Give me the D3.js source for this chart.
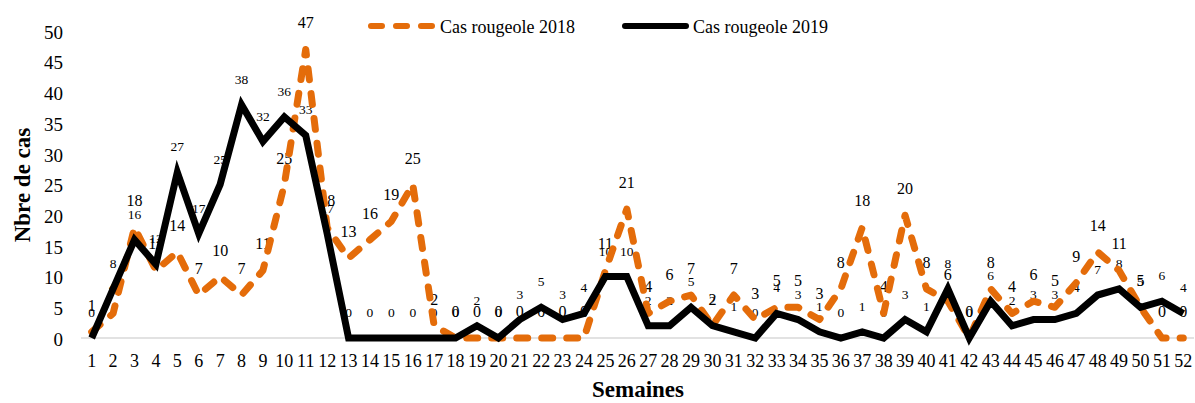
<!DOCTYPE html>
<html>
<head>
<meta charset="utf-8">
<script src="https://cdn.jsdelivr.net/npm/d3@7"></script>
<style>
  body { margin: 0; background: #fff; }
  svg text { font-family: "Liberation Serif", "Tinos", "Times New Roman", Times, "DejaVu Serif", serif !important; fill: #000; }
</style>
</head>
<body>
<svg id="chart" width="1195" height="403"></svg>
<script>
// Weekly measles cases (semaines 1–52)
const weeks = d3.range(1, 53).map(String);
const cas2018 = [1, 4, 18, 11, 14, 7, 10, 7, 11, 25,
                 47, 18, 13, 16, 19, 25, 2, 0, 0, 0,
                 0, 0, 0, 0, 11, 21, 4, 6, 7, 2,
                 7, 3, 5, 5, 3, 8, 18, 4, 20, 8,
                 6, 0, 8, 4, 6, 5, 9, 14, 11, 5,
                 0, 0];
const cas2019 = [0, 8, 16, 12, 27, 17, 25, 38, 32, 36,
                 33, 17, 0, 0, 0, 0, 0, 0, 2, 0,
                 3, 5, 3, 4, 10, 10, 2, 2, 5, 2,
                 1, 0, 4, 3, 1, 0, 1, 0, 3, 1,
                 8, 0, 6, 2, 3, 3, 4, 7, 8, 5,
                 6, 4];
const yTicks = [0, 5, 10, 15, 20, 25, 30, 35, 40, 45, 50];
const seriesNames = ["Cas rougeole 2018", "Cas rougeole 2019"];

const ORANGE = "#E46C0A";
const BLACK = "#000000";
const SERIF = "'Liberation Serif', Tinos, 'Times New Roman', Times, 'DejaVu Serif', serif";

const svg = d3.select("#chart").attr("font-family", SERIF);

const x = d3.scaleBand().domain(weeks).range([81, 1194]);
const cx = d => x(d) + x.bandwidth() / 2;
const y = d3.scaleLinear().domain([0, 50]).range([338, 31]);

// horizontal baseline
svg.append("line")
  .attr("x1", 81).attr("x2", 1194)
  .attr("y1", y(0)).attr("y2", y(0))
  .attr("stroke", "#d9d9d9").attr("stroke-width", 1.3);

// y axis (labels only)
const yAxis = d3.axisLeft(y).tickValues(yTicks).tickSize(0).tickPadding(0);
const gy = svg.append("g").attr("transform", "translate(63,0)").call(yAxis)
  .attr("font-family", SERIF);
gy.select(".domain").remove();
gy.selectAll("text")
  .attr("font-size", 19).attr("fill", "#000").attr("dy", "0.38em");

// x axis (labels only)
const xAxis = d3.axisBottom(x).tickSize(0).tickPadding(0);
const gx = svg.append("g").attr("transform", "translate(0,354)").call(xAxis)
  .attr("font-family", SERIF);
gx.select(".domain").remove();
gx.selectAll("text")
  .attr("font-size", 18).attr("fill", "#000").attr("dy", "0.71em");

// axis titles
svg.append("text")
  .attr("x", 638).attr("y", 397)
  .attr("text-anchor", "middle")
  .attr("font-size", 23).attr("font-weight", "bold")
  .text("Semaines");

svg.append("text")
  .attr("transform", "translate(30,185) rotate(-90)")
  .attr("text-anchor", "middle")
  .attr("font-size", 23).attr("font-weight", "bold")
  .text("Nbre de cas");

// data labels (drawn beneath the lines)
function labels(values, size, cls) {
  svg.append("g").attr("class", cls)
    .selectAll("text")
    .data(values)
    .join("text")
    .attr("x", (d, i) => cx(weeks[i]))
    .attr("y", d => y(d) - 21)
    .attr("text-anchor", "middle")
    .attr("font-size", size)
    .text(d => d);
}
labels(cas2018, 16, "lbl2018");
labels(cas2019, 13.5, "lbl2019");

const line = d3.line()
  .x((d, i) => cx(weeks[i]))
  .y(d => y(d));

svg.append("path")
  .datum(cas2018)
  .attr("d", line)
  .attr("fill", "none")
  .attr("stroke", ORANGE)
  .attr("stroke-width", 7)
  .attr("stroke-linecap", "round")
  .attr("stroke-linejoin", "round")
  .attr("stroke-dasharray", "11,14");

svg.append("path")
  .datum(cas2019)
  .attr("d", line)
  .attr("fill", "none")
  .attr("stroke", BLACK)
  .attr("stroke-width", 7)
  .attr("stroke-linejoin", "miter");

// legend
const legend = svg.append("g");
legend.append("line")
  .attr("x1", 371).attr("x2", 433).attr("y1", 26).attr("y2", 26)
  .attr("stroke", ORANGE).attr("stroke-width", 6)
  .attr("stroke-linecap", "round").attr("stroke-dasharray", "11,14");
legend.append("text")
  .attr("x", 440).attr("y", 33).attr("font-size", 18)
  .text(seriesNames[0]);
legend.append("line")
  .attr("x1", 625).attr("x2", 686).attr("y1", 26).attr("y2", 26)
  .attr("stroke", BLACK).attr("stroke-width", 6)
  .attr("stroke-linecap", "round");
legend.append("text")
  .attr("x", 693).attr("y", 33).attr("font-size", 18)
  .text(seriesNames[1]);
</script>
</body>
</html>
